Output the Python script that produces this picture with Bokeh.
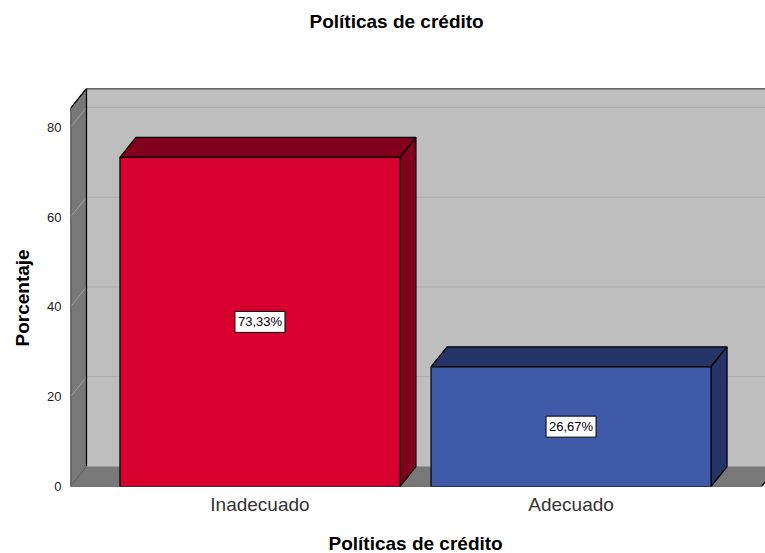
from bokeh.plotting import figure
from bokeh.models import Range1d, FixedTicker, ColumnDataSource, Title
from bokeh.core.properties import value
from bokeh.embed import file_html
from bokeh.resources import INLINE

TITLE = "Políticas de crédito"
X_LABEL = "Políticas de crédito"
Y_LABEL = "Porcentaje"
categories = ["Inadecuado", "Adecuado"]
percent = [73.33, 26.67]
y_ticks = [0, 20, 40, 60, 80]
front_colors = ["#d8002e", "#3e5aa8"]
dark_colors = ["#82001e", "#253566"]

X0, X1 = -0.609, 1.6125     # front edges of the floor
DX, DY = 0.0514, 4.45       # 3D depth offset, in data units
YTOP = 84.2
BAR = 0.9
WALL = "#bebebe"
SIDE = "#787878"
GRID = "#ababab"
GRID_SIDE = "#a0a0a0"
EDGE = 1.25

positions = list(range(len(categories)))

p = figure(width=765, height=553, output_backend="svg", toolbar_location=None,
           x_range=Range1d(X0, 1.625), y_range=Range1d(0, YTOP + DY),
           min_border_left=70, min_border_right=0, min_border_top=88, min_border_bottom=67)
p.outline_line_color = None
p.xgrid.visible = False
p.ygrid.visible = False

# walls and floor
p.patch([X0 + DX, 1.8, 1.8, X0 + DX], [DY, DY, YTOP + DY, YTOP + DY], fill_color=WALL, line_color=None)
p.patch([X0, X0 + DX, X0 + DX, X0], [0, DY, YTOP + DY, YTOP], fill_color=SIDE, line_color=None)
p.patch([X0, X1, X1 + DX, X0 + DX], [0, 0, DY, DY], fill_color=SIDE, line_color=None)

# gridlines
gv = [v for v in y_ticks if v > 0] + [YTOP]
p.segment([X0 + DX] * len(gv), [v + DY for v in gv], [1.8] * len(gv), [v + DY for v in gv],
          line_color=GRID, line_width=1)
p.segment([X0] * len(gv), gv, [X0 + DX] * len(gv), [v + DY for v in gv],
          line_color=GRID_SIDE, line_width=1)

# frame edges
p.line([X0, X0, X0 + DX, 1.8], [0, YTOP, YTOP + DY, YTOP + DY], line_color="black", line_width=EDGE)
p.line([X0 + DX, X0 + DX], [DY, YTOP + DY], line_color="black", line_width=EDGE)
p.line([X0, X0 + DX], [0, DY], line_color="#555555", line_width=1)
p.line([X0 + DX, 1.8], [DY, DY], line_color="#9a9a9a", line_width=1)
p.line([X0, X1, X1 + DX], [0, 0, DY], line_color="black", line_width=EDGE)

# bars
for x, v, fc, dc in zip(positions, percent, front_colors, dark_colors):
    l, r = x - BAR / 2, x + BAR / 2
    p.patch([l, r, r + DX, l + DX], [v, v, v + DY, v + DY], fill_color=dc, line_color="black", line_width=EDGE)
    p.patch([r, r + DX, r + DX, r], [0, DY, v + DY, v], fill_color=dc, line_color="black", line_width=EDGE)
    p.vbar(x=[x], width=BAR, bottom=0, top=[v], fill_color=fc, line_color="black", line_width=EDGE)

# value labels
src = ColumnDataSource(dict(x=positions, y=[v / 2 for v in percent],
                            t=[f"{v:.2f}%".replace(".", ",") for v in percent]))
p.rect(x="x", y="y", width=50, height=21, width_units="screen", height_units="screen", source=src,
       fill_color="white", line_color="black", line_width=1)
p.text(x="x", y="y", text="t", source=src, text_align="center", text_baseline="middle",
       text_font=value("Liberation Sans"), text_font_size="13px", text_color="black")

# axes
p.xaxis.ticker = FixedTicker(ticks=positions)
p.xaxis.major_label_overrides = dict(zip(positions, categories))
p.xaxis.axis_line_color = None
p.xaxis.major_tick_line_color = None
p.xaxis.minor_tick_line_color = None
p.xaxis.major_label_text_font = "Liberation Sans"
p.xaxis.major_label_text_font_size = "19px"
p.xaxis.major_label_text_color = "#333333"
p.xaxis.major_label_standoff = 1

p.yaxis.ticker = FixedTicker(ticks=y_ticks)
p.yaxis.axis_line_color = None
p.yaxis.major_tick_line_color = None
p.yaxis.minor_tick_line_color = None
p.yaxis.major_label_text_font = "Liberation Sans"
p.yaxis.major_label_text_font_size = "13px"
p.yaxis.major_label_text_color = "#222222"
p.yaxis.major_label_standoff = 3

def side_title(text, offset, standoff):
    return Title(text=text, align="left", offset=offset, standoff=standoff, text_color="black",
                 text_font="Liberation Sans", text_font_style="bold", text_font_size="19px",
                 text_line_height=1.0)

# axis titles: spacer panel next to the axis, then the title
p.add_layout(Title(text=" ", text_font_size="1px", standoff=10), "below")
p.add_layout(side_title(X_LABEL, 258, 0), "below")
p.add_layout(Title(text=" ", text_font_size="1px", standoff=0), "left")
p.add_layout(side_title(Y_LABEL, 140, 17), "left")

p.title.text = TITLE
p.title.align = "left"
p.title.offset = 239
p.title.standoff = 16
p.title.text_color = "black"
p.title.text_font = "Liberation Sans"
p.title.text_font_style = "bold"
p.title.text_font_size = "19px"
p.add_layout(Title(text=" ", standoff=26, text_font_size="19px"), "above")

open("out.html", "w").write(file_html(p, INLINE))
